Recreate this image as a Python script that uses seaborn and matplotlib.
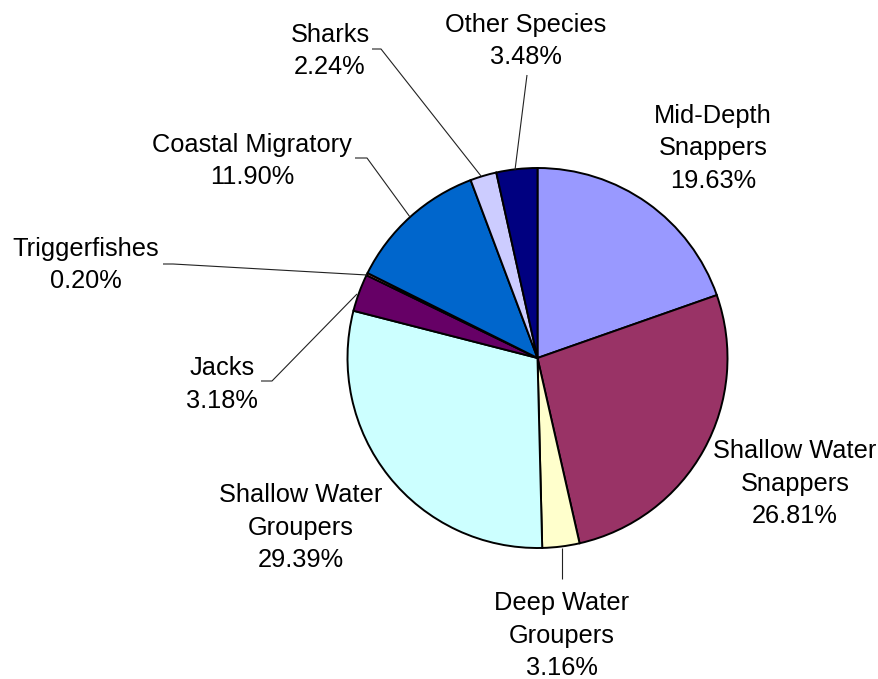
import matplotlib
matplotlib.use("Agg")
import matplotlib.pyplot as plt
import seaborn as sns

# ---- data ----
categories = ["Mid-Depth Snappers", "Shallow Water Snappers", "Deep Water Groupers",
              "Shallow Water Groupers", "Jacks", "Triggerfishes", "Coastal Migratory",
              "Sharks", "Other Species"]
label_lines = [["Mid-Depth", "Snappers"], ["Shallow Water", "Snappers"],
               ["Deep Water", "Groupers"], ["Shallow Water", "Groupers"],
               ["Jacks"], ["Triggerfishes"], ["Coastal Migratory"],
               ["Sharks"], ["Other Species"]]
values = [19.63, 26.81, 3.16, 29.39, 3.18, 0.20, 11.90, 2.24, 3.48]
colors = ["#9999FF", "#993366", "#FFFFCC", "#CCFFFF", "#660066",
          "#FF8080", "#0066CC", "#CCCCFF", "#000080"]

# ---- layout (pixel coordinates, y downward) ----
W, H = 879, 679
center = (537.5, 358)
radius = 190
label_pos = [(713, 123), (795, 458), (562, 610), (301, 502), (222, 375),
             (86, 256), (252, 152), (330, 42), (526, 32)]
leaders = {
    "Sharks": [(372, 49), (381, 49), (481, 176)],
    "Other Species": [(527, 75), (515, 170)],
    "Coastal Migratory": [(355, 158), (367, 158), (410, 217)],
    "Triggerfishes": [(163, 264), (173, 264), (367, 275)],
    "Jacks": [(261, 381), (272, 381), (357, 294)],
    "Deep Water Groupers": [(562, 579), (562, 548)],
}
line_gap = 32.5

sns.set_theme(style="white")
plt.rcParams["font.family"] = ["Liberation Sans", "DejaVu Sans"]

fig = plt.figure(figsize=(W / 100, H / 100), dpi=100)
ax = fig.add_axes([0, 0, 1, 1])

# with inverted y, counterclock=True in data appears clockwise; -90 deg points up
ax.pie(values, colors=colors, startangle=-90, counterclock=True,
       center=center, radius=radius, frame=True,
       wedgeprops=dict(edgecolor="black", linewidth=1.4))
ax.set_xlim(0, W)
ax.set_ylim(H, 0)
ax.set_aspect("equal")
ax.axis("off")

for name, lines, val, (x, y) in zip(categories, label_lines, values, label_pos):
    texts = lines + [f"{val:.2f}%"]
    for i, t in enumerate(texts):
        ax.text(x, y + i * line_gap, t, ha="center", va="baseline",
                fontsize=18.3, color="black")

for name, pts in leaders.items():
    xs = [p[0] for p in pts]
    ys = [p[1] for p in pts]
    ax.plot(xs, ys, color="#222222", linewidth=0.8, solid_capstyle="butt")

fig.savefig("out.png", dpi=100, facecolor="white")
